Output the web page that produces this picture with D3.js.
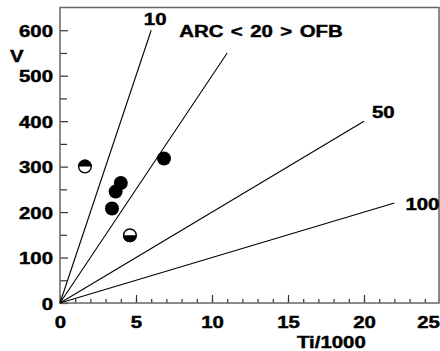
<!DOCTYPE html>
<html>
<head>
<meta charset="utf-8">
<script src="https://cdn.jsdelivr.net/npm/d3@7"></script>
<style>
  body { margin: 0; background: #fff; }
  text { font-family: "Liberation Sans", Arial, sans-serif; font-weight: bold; fill: #000; stroke: #000; stroke-width: 0.45px; }
</style>
</head>
<body>
<svg id="chart" width="440" height="351"></svg>
<script>
// ratio lines Ti/V, and where each line stops (Ti/1000)
var ratios = [10, 20, 50, 100],
    lineEnds = [6, 11, 20, 22],
    ratioLabels = ["10", "ARC < 20 > OFB", "50", "100"];

// sample points [Ti/1000, V]
var fullPts = [[3.42, 208], [3.66, 245], [4.0, 264], [6.84, 318]],
    topHalfPts = [[1.64, 300]],
    bottomHalfPts = [[4.6, 149]];

var xTicks = [0, 5, 10, 15, 20, 25],
    yTicks = [0, 100, 200, 300, 400, 500, 600];

var svg = d3.select("#chart"),
    sx = 1.2; // text looks horizontally stretched in the original

var x = d3.scaleLinear().domain([0, 25]).range([60, 440]),
    y = d3.scaleLinear().domain([0, 650]).range([303, 7.5]);

// write a stretched text with its anchor at px,py
function label(px, py, str, anchor) {
    return svg.append("g").attr("transform", "translate(" + px + "," + py + ")")
      .append("text")
        .attr("transform", "scale(" + sx + ",1)")
        .attr("text-anchor", anchor || "start")
        .style("font-size", "17px")
        .text(str);
}

// minor ticks
svg.append("g").attr("transform", "translate(0,303)")
    .call(d3.axisBottom(x).tickValues(d3.range(0, 25, 1)).tickSize(-4).tickFormat(""))
    .call(function(g) { g.select(".domain").remove(); });
svg.append("g").attr("transform", "translate(60,0)")
    .call(d3.axisLeft(y).tickValues(d3.range(50, 650, 100)).tickSize(-7).tickFormat(""))
    .call(function(g) { g.select(".domain").remove(); });

// major ticks with labels
var xa = svg.append("g").attr("transform", "translate(0,303)")
    .call(d3.axisBottom(x).tickValues(xTicks).tickSize(-8).tickFormat(d3.format("d")));
xa.select(".domain").remove();
xa.selectAll("text")
    .attr("y", 25).attr("dy", null)
    .attr("transform", "scale(" + sx + ",1)")
    .style("font-size", "17px");
xa.selectAll(".tick").filter(function(d) { return d === 25; })
    .select("text").attr("x", -10);

var ya = svg.append("g").attr("transform", "translate(60,0)")
    .call(d3.axisLeft(y).tickValues(yTicks).tickSize(-8).tickFormat(d3.format("d")));
ya.select(".domain").remove();
ya.selectAll("text")
    .attr("x", -7 / sx).attr("dy", "0.36em")
    .attr("transform", "scale(" + sx + ",1)")
    .style("font-size", "17px");

svg.selectAll(".tick line").attr("stroke", "#333").attr("stroke-width", 1.2);

// frame
svg.append("rect")
    .attr("x", 60).attr("y", 7.5)
    .attr("width", 379).attr("height", 295.5)
    .attr("fill", "none").attr("stroke", "#666").attr("stroke-width", 1.5);

// ratio lines from the origin
svg.selectAll(".ratio").data(ratios).enter().append("line")
    .attr("class", "ratio")
    .attr("x1", x(0)).attr("y1", y(0))
    .attr("x2", function(d, i) { return x(lineEnds[i]); })
    .attr("y2", function(d, i) { return y(lineEnds[i] * 1000 / d); })
    .attr("stroke", "#000").attr("stroke-width", 1.1);

var ends = ratios.map(function(d, i) { return [x(lineEnds[i]), y(lineEnds[i] * 1000 / d)]; });
label(ends[0][0] + 4, ends[0][1] - 5, ratioLabels[0], "middle");
label(ends[1][0] - 48, ends[1][1] - 16, ratioLabels[1]).style("word-spacing", "1.5px");
label(ends[2][0] + 8, ends[2][1] - 3, ratioLabels[2]);
label(ends[3][0] + 11, ends[3][1] + 7, ratioLabels[3]);

// axis titles
label(10, 62, "V");
label(297, 348, "Ti/1000");

// points
var r = 7;
svg.selectAll(".full").data(fullPts).enter().append("circle")
    .attr("class", "full")
    .attr("cx", function(d) { return x(d[0]); })
    .attr("cy", function(d) { return y(d[1]); })
    .attr("r", r).attr("fill", "#000");

function half(pts, top) {
    var g = svg.selectAll(null).data(pts).enter().append("g")
        .attr("transform", function(d) { return "translate(" + x(d[0]) + "," + y(d[1]) + ")"; });
    g.append("circle").attr("r", r - 0.7)
        .attr("fill", "#fff").attr("stroke", "#000").attr("stroke-width", 1.4);
    g.append("path")
        .attr("d", "M" + (-r) + ",0A" + r + "," + r + " 0 0 " + (top ? 1 : 0) + " " + r + ",0Z")
        .attr("fill", "#000");
}
half(topHalfPts, true);
half(bottomHalfPts, false);
</script>
</body>
</html>
